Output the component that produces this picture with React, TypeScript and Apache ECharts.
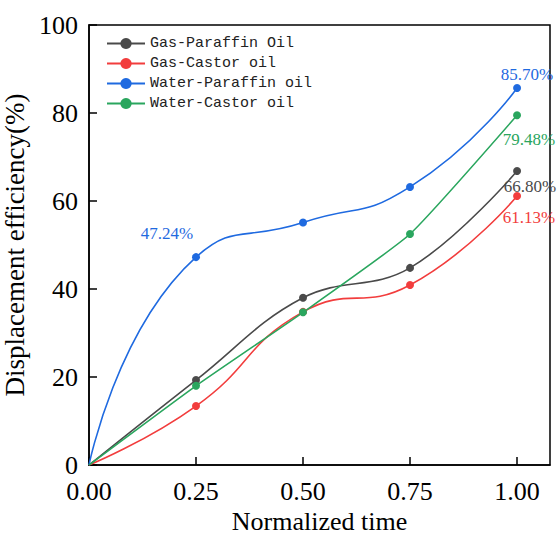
import React, { useEffect, useRef } from "react";
import * as echarts from "echarts";

const xValues = [0, 0.25, 0.5, 0.75, 1.0];
const xTickValues = [0, 0.25, 0.5, 0.75, 1.0];
const yTickValues = [0, 20, 40, 60, 80, 100];

const seriesNames = ["Gas-Paraffin Oil", "Gas-Castor oil", "Water-Paraffin oil", "Water-Castor oil"];
const gasParaffin = [0, 19.3, 38.0, 44.8, 66.8];
const gasCastor = [0, 13.4, 34.8, 40.9, 61.13];
const waterParaffin = [0, 47.24, 55.1, 63.2, 85.7];
const waterCastor = [0, 18.0, 34.7, 52.5, 79.48];

const colors = ["#4a4a4a", "#f23d3d", "#1f6ae0", "#2aa65e"];
const smoothness = [0.4, 0.5, 0.55, 0.15];

const SERIF = "Liberation Serif";
const MONO = "Liberation Mono";

export default function App() {
  const ref = useRef<HTMLDivElement>(null);
  useEffect(() => {
    if (!ref.current) return;
    const chart = echarts.init(ref.current, undefined, { renderer: "svg" });
    const all = [gasParaffin, gasCastor, waterParaffin, waterCastor];
    const labelCfg: Record<number, Array<[number, string, [number, number]]>> = {
      0: [[4, "bottom", [13, -2]]],
      1: [[4, "bottom", [12, 4]]],
      2: [[1, "top", [-29, -6]], [4, "top", [10, 4]]],
      3: [[4, "bottom", [12, 7]]],
    };
    const series = all.map((vals, si) => ({
      type: "line",
      name: seriesNames[si],
      smooth: smoothness[si],
      symbol: "circle",
      symbolSize: 8,
      lineStyle: { color: colors[si], width: 1.6 },
      itemStyle: { color: colors[si] },
      label: { fontFamily: SERIF, fontSize: 17 },
      data: vals.map((v, i) => {
        const cfg = (labelCfg[si] || []).find((c) => c[0] === i);
        const item: any = { value: [xValues[i], v] };
        if (i === 0) item.symbol = "none";
        if (cfg) {
          item.label = {
            show: true,
            position: cfg[1],
            offset: cfg[2],
            formatter: v.toFixed(2) + "%",
            color: colors[si],
            fontFamily: SERIF,
            fontSize: 17,
            fontWeight: "normal",
          };
        }
        return item;
      }),
    }));
    chart.setOption({
      animation: false,
      backgroundColor: "#ffffff",
      grid: {
        left: 89,
        right: 9,
        top: 25,
        height: 440,
        outerBoundsMode: "none",
        containLabel: false,
        show: true,
        borderColor: "#000",
        borderWidth: 1.5,
        backgroundColor: "transparent",
      },
      legend: {
        left: 106,
        top: 36,
        padding: 0,
        orient: "vertical",
        itemWidth: 38,
        itemHeight: 14,
        itemGap: 5,
        textStyle: { fontFamily: MONO, fontSize: 15, color: "#222" },
        data: seriesNames,
      },
      xAxis: {
        type: "value",
        min: 0,
        max: 1.077,
        interval: 0.25,
        name: "Normalized time",
        nameLocation: "middle",
        nameGap: 36,
        nameTextStyle: { fontFamily: SERIF, fontSize: 26, color: "#000" },
        axisLine: { show: true, lineStyle: { color: "#000", width: 1.5 } },
        axisTick: { show: true, inside: true, length: 8, lineStyle: { color: "#000", width: 1.5 }, customValues: xTickValues },
        axisLabel: {
          fontFamily: SERIF,
          fontSize: 26,
          color: "#000",
          margin: 13,
          customValues: xTickValues,
          formatter: (v: number) => v.toFixed(2),
        },
        splitLine: { show: false },
      },
      yAxis: {
        type: "value",
        min: 0,
        max: 100,
        interval: 20,
        name: "Displacement efficiency(%)",
        nameLocation: "middle",
        nameGap: 51,
        nameTextStyle: { fontFamily: SERIF, fontSize: 27, color: "#000" },
        axisLine: { show: true, lineStyle: { color: "#000", width: 1.5 } },
        axisTick: { show: true, inside: true, length: 8, lineStyle: { color: "#000", width: 1.5 }, customValues: yTickValues },
        axisLabel: {
          fontFamily: SERIF,
          fontSize: 26,
          color: "#000",
          margin: 11,
          customValues: yTickValues,
        },
        splitLine: { show: false },
      },
      series,
    });
    return () => chart.dispose();
  }, []);
  return <div ref={ref} style={{ width: 559, height: 533, position: "absolute", left: 0, top: 0 }} />;
}
